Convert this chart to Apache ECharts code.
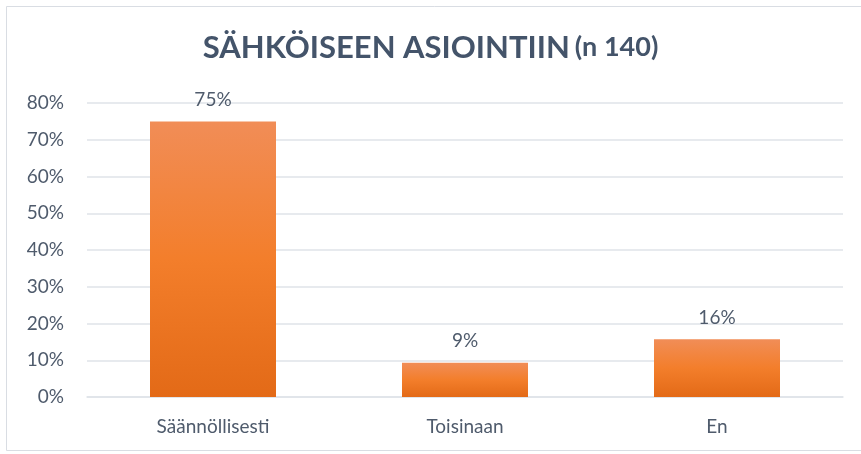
<!DOCTYPE html>
<html>
<head>
<meta charset="utf-8">
<script src="https://cdn.jsdelivr.net/npm/echarts@6/dist/echarts.min.js"></script>
<style>
  html, body { margin: 0; padding: 0; background: #fff; }
  #chart { width: 861px; height: 454px; }
</style>
</head>
<body>
<div id="chart"></div>
<script>
// data
const categories = ["Säännöllisesti", "Toisinaan", "En"];
const shares = [75, 9.3, 15.7];
const yTicks = { min: 0, max: 80, step: 10 };

const textColor = "#4f5b6c";
const gridColor = "#dfe3e9";

const chart = echarts.init(document.getElementById("chart"));

chart.setOption({
  backgroundColor: "#fff",
  animation: false,
  title: {
    text: "{main|SÄHKÖISEEN ASIOINTIIN} {sub|(n 140)}",
    left: "center",
    top: 27,
    textStyle: {
      rich: {
        main: { fontFamily: "Lato", fontWeight: "bold", fontSize: 31, color: "#44546a" },
        sub: { fontFamily: "Lato", fontWeight: "bold", fontSize: 27, color: "#44546a" },
      },
    },
  },
  graphic: [
    {
      type: "rect",
      shape: { x: 6.5, y: 6.5, width: 860, height: 444 },
      style: { fill: "none", stroke: "#d9dde3", lineWidth: 1 },
      silent: true,
    },
  ],
  grid: { left: 87, right: 18, top: 103, bottom: 57 },
  xAxis: {
    type: "category",
    data: categories,
    axisLine: { lineStyle: { color: gridColor, width: 1.5 } },
    axisTick: { show: false },
    axisLabel: { color: textColor, fontFamily: "Lato", fontSize: 19, margin: 20 },
  },
  yAxis: {
    type: "value",
    min: yTicks.min,
    max: yTicks.max,
    interval: yTicks.step,
    axisLine: { show: false },
    axisTick: { show: false },
    splitLine: { lineStyle: { color: gridColor, width: 1.5 } },
    axisLabel: {
      color: textColor,
      fontFamily: "Lato",
      fontSize: 19,
      margin: 23,
      formatter: "{value}%",
    },
  },
  series: [
    {
      type: "bar",
      data: shares,
      barWidth: "50%",
      itemStyle: {
        color: new echarts.graphic.LinearGradient(0, 0, 0, 1, [
          { offset: 0, color: "#f18d57" },
          { offset: 0.5, color: "#f37e2b" },
          { offset: 1, color: "#e36a17" },
        ]),
      },
      label: {
        show: true,
        position: "top",
        distance: 12,
        color: textColor,
        fontFamily: "Lato",
        fontSize: 19,
        formatter: (p) => Math.round(p.value) + "%",
      },
    },
  ],
});
</script>
</body>
</html>
